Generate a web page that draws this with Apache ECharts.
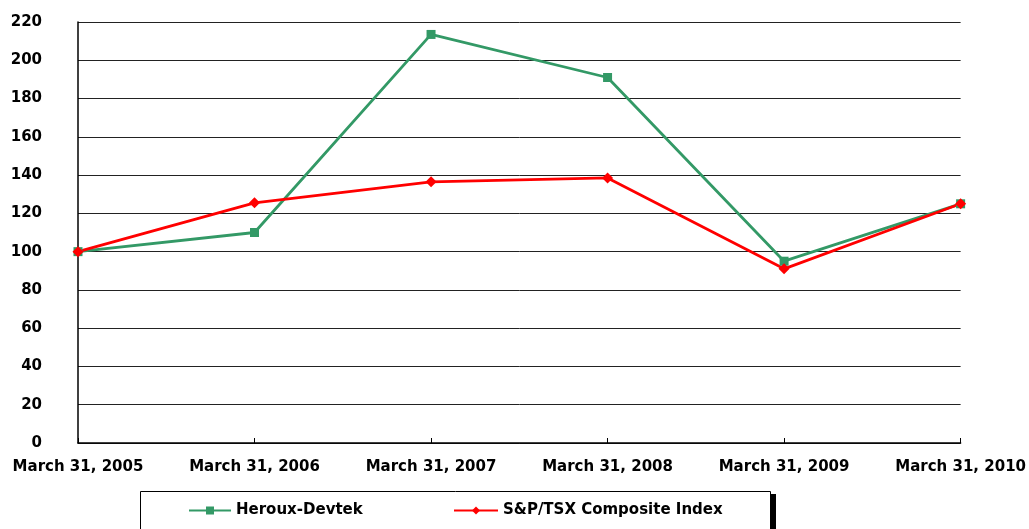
<!DOCTYPE html>
<html><head><meta charset="utf-8">
<script src="https://cdn.jsdelivr.net/npm/echarts@6/dist/echarts.min.js"></script>
<style>html,body{margin:0;padding:0;background:#fff}#c{width:1029px;height:529px}</style>
</head><body><div id="c"></div>
<script>
const categories = ['March 31, 2005','March 31, 2006','March 31, 2007','March 31, 2008','March 31, 2009','March 31, 2010'];
const herouxDevtek = [100, 110, 213.5, 191, 95, 125];
const spTsx = [100, 125.5, 136.5, 138.5, 91, 125];
const seriesNames = ['Heroux-Devtek', 'S&P/TSX Composite Index'];

const chart = echarts.init(document.getElementById('c'));
const font = '"DejaVu Sans", Verdana, sans-serif';
chart.setOption({
  animation: false,
  grid: {left: 78, right: 66, top: 22, bottom: 86},
  xAxis: {
    type: 'category', data: categories, boundaryGap: false,
    axisLine: {lineStyle: {color: '#000', width: 1.5}},
    axisTick: {inside: true, length: 5, lineStyle: {color: '#000'}},
    axisLabel: {color: '#000', fontFamily: font, fontWeight: 'bold', fontSize: 15, margin: 17}
  },
  yAxis: {
    type: 'value', min: 0, max: 220, interval: 20,
    axisLine: {show: true, lineStyle: {color: '#000', width: 1.5}},
    axisTick: {show: false},
    axisLabel: {color: '#000', fontFamily: font, fontWeight: 'bold', fontSize: 15, margin: 36},
    splitLine: {lineStyle: {color: '#222', width: 1}}
  },
  legend: [
    {data: [seriesNames[0]], left: 183, top: 498, padding: 5, itemWidth: 42, itemHeight: 10, itemGap: 0,
     textStyle: {color: '#000', fontFamily: font, fontWeight: 'bold', fontSize: 15}},
    {data: [seriesNames[1]], left: 448, top: 498, padding: 5, itemWidth: 44, itemHeight: 10, itemGap: 0,
     textStyle: {color: '#000', fontFamily: font, fontWeight: 'bold', fontSize: 15}}
  ],
  graphic: [
    {type: 'rect', shape: {x: 771, y: 494, width: 5, height: 40}, style: {fill: '#000'}, z: 0},
    {type: 'rect', shape: {x: 140.5, y: 491.5, width: 630, height: 45}, style: {fill: '#fff', stroke: '#000', lineWidth: 1}, z: 0}
  ],
  series: [
    {name: seriesNames[0], type: 'line', data: herouxDevtek, symbol: 'rect', symbolSize: 9,
     itemStyle: {color: '#339966'}, lineStyle: {color: '#339966', width: 2.8}},
    {name: seriesNames[1], type: 'line', data: spTsx, symbol: 'diamond', symbolSize: 11,
     itemStyle: {color: '#ff0000'}, lineStyle: {color: '#ff0000', width: 2.8}}
  ]
});
</script></body></html>
